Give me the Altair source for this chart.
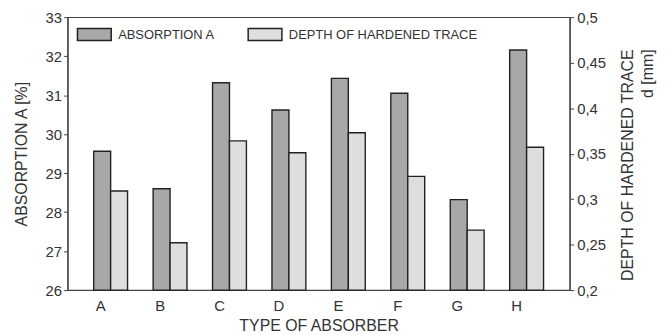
import altair as alt
import pandas as pd

categories = ["A", "B", "C", "D", "E", "F", "G", "H"]
absorption = [29.56, 28.6, 31.32, 30.62, 31.43, 31.05, 28.32, 32.16]
depth = [0.309, 0.252, 0.364, 0.351, 0.373, 0.325, 0.266, 0.357]
series = ["ABSORPTION A", "DEPTH OF HARDENED TRACE"]
left_ticks = [26, 27, 28, 29, 30, 31, 32, 33]
right_ticks = [0.2, 0.25, 0.3, 0.35, 0.4, 0.45, 0.5]

df1 = pd.DataFrame({"cat": categories, "series": series[0], "value": absorption})
df2 = pd.DataFrame({"cat": categories, "series": series[1], "value": depth})

FONT = "Liberation Sans"
TXT = "#333333"

legend = alt.Legend(
    title=None, orient="none", legendX=9, legendY=-1, direction="horizontal",
    symbolType="M-1,-0.353L1,-0.353L1,0.353L-1,0.353Z", symbolSize=1156,
    symbolStrokeColor="#222222", symbolStrokeWidth=1.5, symbolOpacity=1,
    labelFontSize=13, labelOffset=6, columnPadding=30, padding=0,
    labelColor=TXT, labelFont=FONT, labelLimit=400,
)

x_enc = alt.X("cat:N", sort=categories,
              scale=alt.Scale(paddingInner=0.43, paddingOuter=0.44),
              axis=alt.Axis(title="TYPE OF ABSORBER", labelAngle=0, ticks=False,
                            labelOffset=-10, labelPadding=9, titlePadding=4,
                            domain=False))
xoff = alt.XOffset("series:N", scale=alt.Scale(domain=series))
color = alt.Color("series:N", scale=alt.Scale(domain=series, range=["#a8a8a8", "#dedede"]),
                  legend=legend)

bar = dict(stroke="#222222", strokeWidth=1.4)

left = alt.Chart(df1).mark_bar(**bar).encode(
    x=x_enc, xOffset=xoff, color=color,
    y=alt.Y("value:Q", scale=alt.Scale(domain=[26, 33], zero=False, nice=False),
            axis=alt.Axis(orient="left", values=left_ticks, title="ABSORPTION A [%]",
                          tickSize=4, labelPadding=2, titlePadding=16, grid=False)),
    y2=alt.datum(26),
)

right = alt.Chart(df2).mark_bar(**bar).encode(
    x=x_enc, xOffset=xoff, color=color,
    y=alt.Y("value:Q", scale=alt.Scale(domain=[0.2, 0.5], zero=False, nice=False),
            axis=alt.Axis(orient="right", values=right_ticks,
                          title=["DEPTH OF HARDENED TRACE", "d [mm]"],
                          labelExpr="replace(format(datum.value, '.2~f'), '.', ',')",
                          tickSize=4, labelPadding=3, titlePadding=10, titleAngle=-90,
                          titleAlign="right", titleY=32, titleLineHeight=20,
                          grid=False)),
    y2=alt.datum(0.2),
)

chart = alt.layer(left, right).resolve_scale(y="independent").properties(
    width=506, height=275, background="white",
    padding={"left": 5, "top": 1, "right": 5, "bottom": 5}
).configure_view(stroke="#444444", strokeWidth=1.2).configure_axis(
    labelFont=FONT, titleFont=FONT, labelFontSize=15, titleFontSize=16,
    labelColor=TXT, titleColor=TXT, titleFontWeight="normal",
    domainColor="#444444", tickColor="#444444", domainWidth=1.2,
)

chart.save("out.html", embed_options={"renderer": "svg", "actions": False})
